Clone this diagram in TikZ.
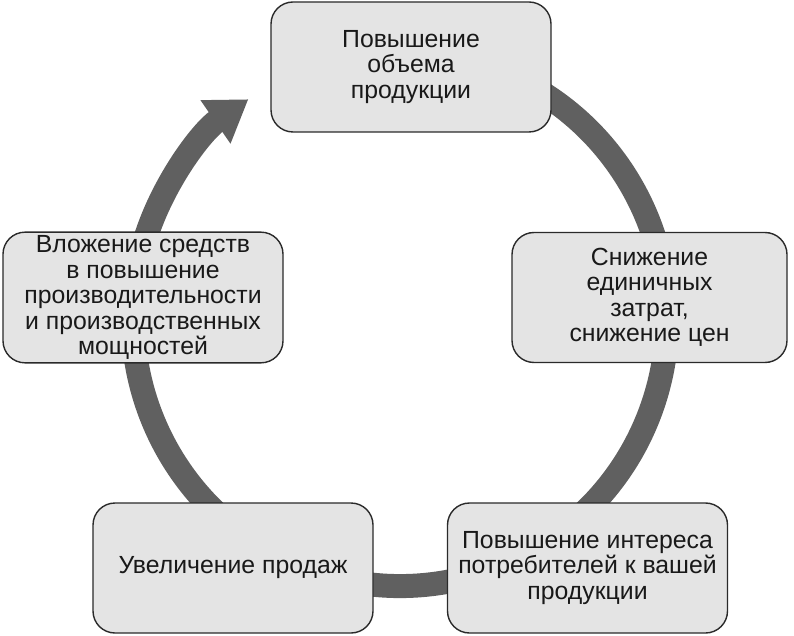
\documentclass[tikz,border=0pt]{standalone}
\usepackage{fontspec}
\setmainfont{Liberation Sans}
\usetikzlibrary{positioning,arrows.meta}
\definecolor{boxfill}{HTML}{E4E4E4}
\definecolor{boxline}{HTML}{2A2A2A}
\definecolor{ringgray}{HTML}{606060}

\begin{document}
\begin{tikzpicture}[x=1pt,y=1pt,on grid,
    stage/.style={draw=boxline,line width=1.4pt,fill=boxfill,rounded corners=22pt,
      minimum width=280pt,minimum height=130pt,align=center,text=black!90,
      font=\fontsize{24.8}{25.5}\selectfont},
    ring/.style={draw=ringgray,line width=24pt,-{Triangle[width=50pt,length=40pt]}}]
  \useasboundingbox (0,0) rectangle (794,635);
  \coordinate (hub) at (400,316);
  \draw[ring] ([shift={(70:267)}]hub) arc[start angle=70,end angle=-235.4,radius=267];
  \node[stage]  (Vol)      at (411,568)                      {Повышение\\объема\\продукции};
  \node[stage,minimum width=275pt] (Cost) [below right=230.5pt and 238.5pt of Vol] {Снижение\\единичных\\затрат,\\снижение цен};
  \node[stage]  (Invest)   [left=506.5pt of Cost]           {Вложение средств\\в повышение\\производительности\\и производственных\\мощностей};
  \node[stage]  (Interest) [below left=270.5pt and 62pt of Cost] {Повышение интереса\\потребителей к вашей\\продукции};
  \node[stage]  (Sales)    [left=354.5pt of Interest]       {Увеличение продаж};
\end{tikzpicture}
\end{document}
